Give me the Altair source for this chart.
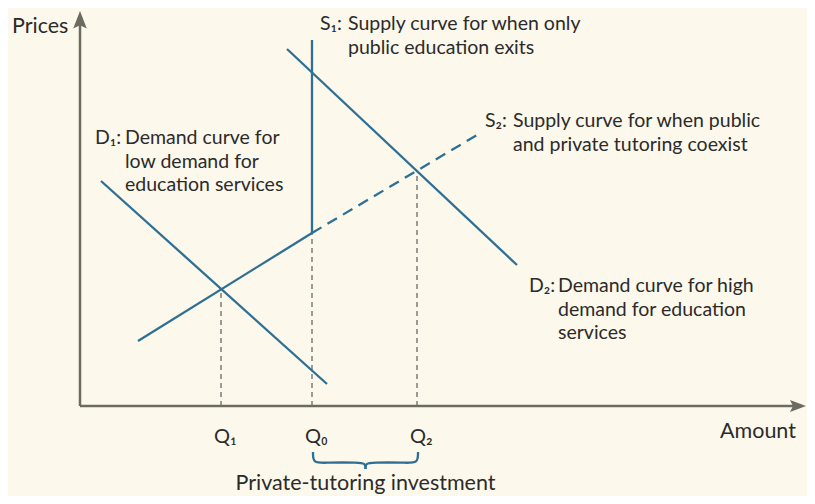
import altair as alt
import pandas as pd

# ---- curves: (amount, price) in chart units ----
D1_AMOUNT = [2.1, 24.7]
D1_PRICE = [22.5, 2.2]
D2_AMOUNT = [20.7, 43.7]
D2_PRICE = [35.7, 14.1]
S1_AMOUNT = [23.2, 23.2]
S1_PRICE = [17.3, 36.6]
S2_AMOUNT = [5.8, 23.2]
S2_PRICE = [6.5, 17.3]
S2_EXT_AMOUNT = [23.2, 39.7]
S2_EXT_PRICE = [17.3, 27.1]

# ---- equilibrium quantities ----
Q_NAMES = ["Q₁", "Q₀", "Q₂"]
Q_AMOUNT = [14.1, 23.2, 33.7]
Q_PRICE = [11.7, 17.3, 23.5]

# ---- brace under Q0..Q2 ----
BRACE_LEFT_AMOUNT = [23.3, 23.3, 24.6, 27.9, 28.55, 28.55]
BRACE_LEFT_PRICE = [-4.6, -5.75, -5.65, -5.65, -5.75, -6.3]
BRACE_RIGHT_AMOUNT = [28.55, 28.55, 29.2, 32.5, 33.8, 33.8]
BRACE_RIGHT_PRICE = [-6.3, -5.75, -5.65, -5.65, -5.75, -4.6]

# ---- axes ----
AXIS_Y_TOP = 38.4
AXIS_X_END = 71.6

# ---- curve annotations: prefix + indented block ----
CURVE_PREFIX = ["S₁:", "S₂:", "D₁:", "D₂:"]
CURVE_TEXT = [
    "Supply curve for when only\npublic education exits",
    "Supply curve for when public\nand private tutoring coexist",
    "Demand curve for\nlow demand for\neducation services",
    "Demand curve for high\ndemand for education\nservices",
]
PREFIX_AMOUNT = [24.0, 40.5, 1.5, 44.9]
BLOCK_AMOUNT = [26.8, 43.3, 4.5, 47.8]
BLOCK_PRICE = [37.6, 27.9, 26.2, 11.4]

TITLE_TEXT = ["Prices", "Amount", "Private-tutoring investment"]
TITLE_AMOUNT = [-6.8, 64.0, 28.55]
TITLE_PRICE = [37.3, -3.2, -8.4]
TITLE_ALIGN = ["left", "left", "center"]

BLUE = "#2e6f94"
GRAY = "#6b6b62"
TEXT = "#2b2b2b"
BG = "#fdf8ec"
FONT = "Lato"

W, H = 799, 488
xscale = alt.Scale(domain=[-7.2, -7.2 + W / 10], nice=False, zero=False)
yscale = alt.Scale(domain=[39.8 - H / 10, 39.8], nice=False, zero=False)


def xy(xf="amount", yf="price"):
    return dict(
        x=alt.X(f"{xf}:Q", scale=xscale, axis=None),
        y=alt.Y(f"{yf}:Q", scale=yscale, axis=None),
    )


rows = []
for name, xs, ys in [("D1", D1_AMOUNT, D1_PRICE), ("D2", D2_AMOUNT, D2_PRICE),
                     ("S1", S1_AMOUNT, S1_PRICE), ("S2", S2_AMOUNT, S2_PRICE)]:
    for i, (a, p) in enumerate(zip(xs, ys)):
        rows.append({"series": name, "amount": a, "price": p, "idx": i})
solid_df = pd.DataFrame(rows)
dash_df = pd.DataFrame({"amount": S2_EXT_AMOUNT, "price": S2_EXT_PRICE, "idx": [0, 1]})

brace_rows = []
for name, xs, ys in [("L", BRACE_LEFT_AMOUNT, BRACE_LEFT_PRICE), ("R", BRACE_RIGHT_AMOUNT, BRACE_RIGHT_PRICE)]:
    for i, (a, p) in enumerate(zip(xs, ys)):
        brace_rows.append({"half": name, "amount": a, "price": p, "idx": i})
brace_df = pd.DataFrame(brace_rows)

q_df = pd.DataFrame({"name": Q_NAMES, "amount": Q_AMOUNT, "price": Q_PRICE, "zero": [0.0] * 3})
q_df["label_x"] = q_df["amount"] - 0.7
q_df["label_y"] = -3.7

ann_df = pd.DataFrame({
    "prefix": CURVE_PREFIX, "text": CURVE_TEXT,
    "px": PREFIX_AMOUNT, "bx": BLOCK_AMOUNT, "price": BLOCK_PRICE,
})
title_df = pd.DataFrame({"text": TITLE_TEXT, "amount": TITLE_AMOUNT, "price": TITLE_PRICE, "align": TITLE_ALIGN})

axis_df = pd.DataFrame({"x0": [0.0, 0.0], "y0": [0.0, 0.0], "x1": [0.0, AXIS_X_END], "y1": [AXIS_Y_TOP, 0.0]})
arrow_up = pd.DataFrame({"amount": [0.0], "price": [AXIS_Y_TOP]})
arrow_right = pd.DataFrame({"amount": [AXIS_X_END], "price": [0.0]})

drops = alt.Chart(q_df).mark_rule(color="#9b9b95", strokeWidth=2, strokeDash=[5, 4]).encode(
    x=alt.X("amount:Q", scale=xscale, axis=None),
    y=alt.Y("zero:Q", scale=yscale, axis=None),
    y2="price:Q",
)

axes = alt.Chart(axis_df).mark_rule(color=GRAY, strokeWidth=2.5).encode(
    x=alt.X("x0:Q", scale=xscale, axis=None),
    y=alt.Y("y0:Q", scale=yscale, axis=None),
    x2="x1:Q",
    y2="y1:Q",
)

up_head = alt.Chart(arrow_up).mark_point(
    shape="M0,-1L0.62,0.6L0,0.3L-0.62,0.6Z", filled=True, color=GRAY, opacity=1, size=480
).encode(**xy())
right_head = alt.Chart(arrow_right).mark_point(
    shape="M1,0L-0.6,0.6L-0.3,0L-0.6,-0.6Z", filled=True, color=GRAY, opacity=1, size=400
).encode(**xy())

solid = alt.Chart(solid_df).mark_line(color=BLUE, strokeWidth=2.3).encode(
    detail="series:N", order="idx:Q", **xy()
)
dashed = alt.Chart(dash_df).mark_line(color=BLUE, strokeWidth=2.3, strokeDash=[11, 7]).encode(
    order="idx:Q", **xy()
)
brace = alt.Chart(brace_df).mark_line(color=BLUE, strokeWidth=2.3, interpolate="basis").encode(
    detail="half:N", order="idx:Q", **xy()
)

prefixes = alt.Chart(ann_df).mark_text(
    align="left", baseline="alphabetic", font=FONT, fontSize=19.5, color=TEXT
).encode(text="prefix:N", **xy("px", "price"))

blocks = alt.Chart(ann_df).mark_text(
    align="left", baseline="alphabetic", font=FONT, fontSize=19.5, color=TEXT,
    lineBreak="\n", lineHeight=23.6,
).encode(text="text:N", **xy("bx", "price"))

titles_left = alt.Chart(title_df[title_df["align"] == "left"]).mark_text(
    align="left", baseline="alphabetic", font=FONT, fontSize=21.5, color=TEXT
).encode(text="text:N", **xy())
titles_center = alt.Chart(title_df[title_df["align"] == "center"]).mark_text(
    align="center", baseline="alphabetic", font=FONT, fontSize=21.5, color=TEXT
).encode(text="text:N", **xy())

q_labels = alt.Chart(q_df).mark_text(
    align="left", baseline="alphabetic", font=FONT, fontSize=20, color=TEXT
).encode(text="name:N", **xy("label_x", "label_y"))

chart = alt.layer(
    drops, axes, up_head, right_head, solid, dashed, brace,
    prefixes, blocks, titles_left, titles_center, q_labels
).properties(
    width=W, height=H, background=BG, padding=0, autosize=alt.AutoSizeParams(type="none")
).configure_view(stroke=None)

chart.save("out.html", embed_options={"renderer": "svg", "actions": False})
